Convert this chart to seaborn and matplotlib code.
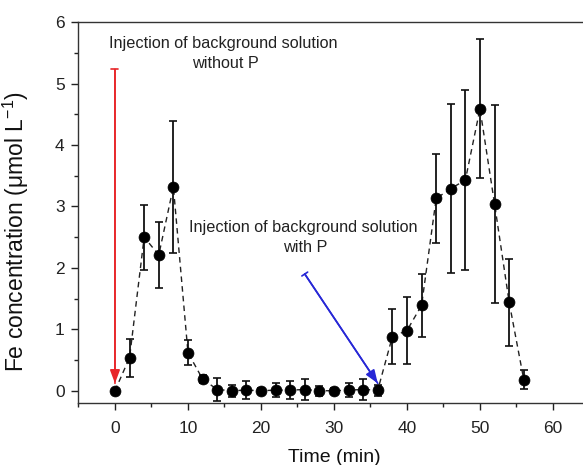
import numpy as np
import pandas as pd
import matplotlib
matplotlib.use("Agg")
import matplotlib.pyplot as plt
from matplotlib.ticker import MultipleLocator
import seaborn as sns

time_min = [0, 2, 4, 6, 8, 10, 12, 14, 16, 18, 20, 22, 24, 26, 28, 30, 32, 34, 36,
            38, 40, 42, 44, 46, 48, 50, 52, 54, 56]
fe_conc = [0.00, 0.54, 2.50, 2.21, 3.32, 0.62, 0.19, 0.02, 0.00, 0.01, 0.00, 0.01, 0.01, 0.02, 0.00, 0.00, 0.01, 0.02, 0.01,
           0.88, 0.98, 1.39, 3.13, 3.29, 3.43, 4.59, 3.04, 1.44, 0.18]
fe_err = [0.00, 0.31, 0.53, 0.53, 1.07, 0.20, 0.07, 0.18, 0.10, 0.15, 0.05, 0.12, 0.15, 0.17, 0.08, 0.05, 0.12, 0.17, 0.09,
          0.45, 0.55, 0.51, 0.73, 1.37, 1.47, 1.13, 1.61, 0.71, 0.15]

sns.set_style("ticks")
plt.rcParams['font.family'] = ['Liberation Sans', 'DejaVu Sans']
plt.rcParams['mathtext.fontset'] = 'custom'
plt.rcParams['mathtext.rm'] = 'Liberation Sans'
plt.rcParams['mathtext.it'] = 'Liberation Sans:italic'

df = pd.DataFrame({"Time": time_min, "Fe": fe_conc, "err": fe_err})

fig = plt.figure(figsize=(5.83, 4.65), dpi=100)
ax = fig.add_axes([0.1346, 0.1333, 0.8765, 0.819])

ax.errorbar(df["Time"], df["Fe"], yerr=df["err"], fmt="none", ecolor="#111111",
            elinewidth=1.3, capsize=3.2, capthick=1.2, zorder=2)
sns.lineplot(data=df, x="Time", y="Fe", ax=ax, color="#222222", linewidth=1.0,
             linestyle=(0, (4, 3)), zorder=1)
sns.scatterplot(data=df, x="Time", y="Fe", ax=ax, color="black", s=62,
                edgecolor="black", linewidth=0.5, zorder=3)

ax.set_xlim(-5, 65)
ax.set_ylim(-0.2, 6)
ax.xaxis.set_major_locator(MultipleLocator(10))
ax.xaxis.set_minor_locator(MultipleLocator(5))
ax.yaxis.set_major_locator(MultipleLocator(1))
ax.yaxis.set_minor_locator(MultipleLocator(0.5))
ax.tick_params(axis="x", which="major", direction="out", length=5, width=1,
               labelsize=12.5, colors="#222222", pad=8)
ax.tick_params(axis="y", which="major", direction="out", length=5, width=1,
               labelsize=12.5, colors="#222222", pad=5)
ax.tick_params(axis="both", which="minor", direction="out", length=3, width=1, colors="#222222")
for s in ax.spines.values():
    s.set_visible(True)
    s.set_linewidth(1.0)
    s.set_color("#333333")

ax.set_xlabel("Time (min)", fontsize=14, color="#111111", labelpad=9)
ax.set_ylabel("Fe concentration (μmol L$^{-1}$)", fontsize=16.5, color="#111111")
ax.yaxis.set_label_coords(-0.092, 0.45)

# red arrow (injection without P)
ax.annotate("", xy=(0, 0.12), xytext=(0, 5.23),
            arrowprops=dict(arrowstyle="-|>,head_length=0.8,head_width=0.3", color="#e8262a", lw=1.2,
                            shrinkA=0, shrinkB=0))
ax.annotate("", xy=(0, 0.12), xytext=(0, 5.23),
            arrowprops=dict(arrowstyle="|-|,widthA=0.25,widthB=0", color="#e8262a", lw=1.2,
                            shrinkA=0, shrinkB=0))
# blue arrow (injection with P)
ax.annotate("", xy=(36, 0.12), xytext=(26, 1.9),
            arrowprops=dict(arrowstyle="-|>,head_length=0.8,head_width=0.3", color="#2727d6", lw=1.2,
                            shrinkA=0, shrinkB=0))
ax.annotate("", xy=(36, 0.12), xytext=(26, 1.9),
            arrowprops=dict(arrowstyle="|-|,widthA=0.25,widthB=0", color="#2727d6", lw=1.2,
                            shrinkA=0, shrinkB=0))

ax.text(14.8, 5.66, "Injection of background solution", fontsize=11.7, ha="center", va="center", color="#222222")
ax.text(15.1, 5.33, "without P", fontsize=11.7, ha="center", va="center", color="#222222")
ax.text(25.75, 2.66, "Injection of background solution", fontsize=11.7, ha="center", va="center", color="#222222")
ax.text(26.0, 2.33, "with P", fontsize=11.7, ha="center", va="center", color="#222222")

fig.savefig("out.png", dpi=100)
